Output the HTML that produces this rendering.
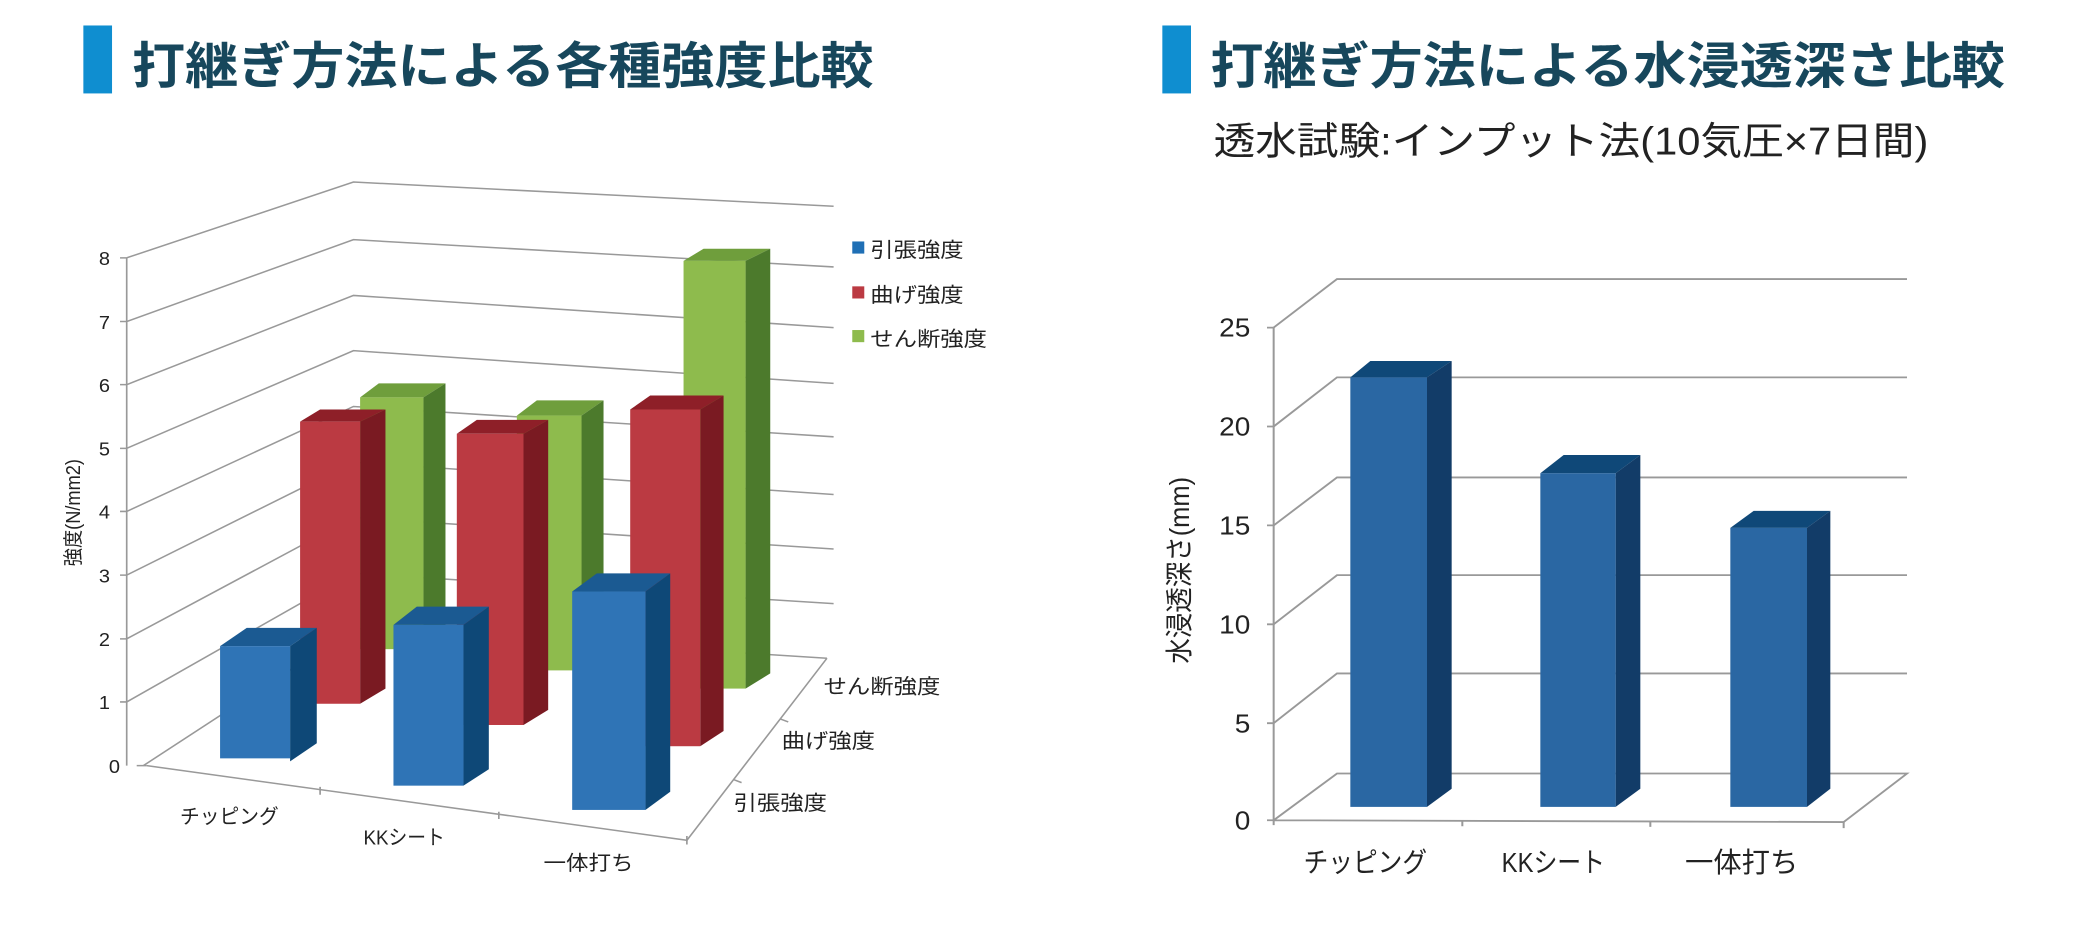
<!DOCTYPE html>
<html><head><meta charset="utf-8"><style>
html,body{margin:0;padding:0;background:#fff;width:2075px;height:944px;overflow:hidden}
svg{position:absolute;top:0}
text{font-family:"Liberation Sans","Noto Sans CJK JP",sans-serif}
</style></head><body>
<svg style="left:0" width="1037" height="944" viewBox="0 0 1555 1556" preserveAspectRatio="none">
<rect x="125" y="42" width="43" height="112" fill="#0f8ed0"/>
<text x="198" y="138" font-size="82" font-weight="bold" fill="#17475c" textLength="1112" lengthAdjust="spacingAndGlyphs">打継ぎ方法による各種強度比較</text>
<g stroke="#999" stroke-width="2.5" fill="none">
<path d="M190 425 L530 300 L1250 340"/>
<path d="M190 530 L530 395 L1250 440"/>
<path d="M190 634 L530 487 L1250 540"/>
<path d="M190 739 L530 578 L1250 632"/>
<path d="M190 843 L530 670 L1250 720"/>
<path d="M190 948 L530 762 L1250 815"/>
<path d="M190 1053 L530 853 L1250 905"/>
<path d="M190 1157 L530 945 L1250 995"/>
<path d="M215 1262 L530 1036 L1240 1085"/>
<path d="M190 425 L190 1262"/>
<path d="M220 1262 L1030 1385 L1240 1085"/>
<path d="M480 1297 L480 1310 M748 1338 L748 1350 M1030 1378 L1030 1392 M1100 1285 L1112 1290 M1170 1185 L1182 1190"/>
<path d="M180 425 L190 425 M180 530 L190 530 M180 634 L190 634 M180 739 L190 739 M180 843 L190 843 M180 948 L190 948 M180 1053 L190 1053 M180 1157 L190 1157 M205 1262 L220 1262"/>
</g>
<g font-size="30" fill="#222" text-anchor="end">
<text x="165" y="437">8</text><text x="165" y="542">7</text><text x="165" y="646">6</text><text x="165" y="751">5</text><text x="165" y="855">4</text><text x="165" y="960">3</text><text x="165" y="1065">2</text><text x="165" y="1169">1</text><text x="180" y="1274">0</text>
</g>
<text transform="translate(120,845) rotate(-90)" font-size="30" fill="#222" text-anchor="middle">強度(N/mm2)</text>
<g>
<polygon points="540,655 568,632 668,632 635,655" fill="#6f9e3c"/><polygon points="635,655 668,632 668,1045 635,1070" fill="#4c7a2c"/><rect x="540" y="655" width="95" height="415" fill="#8ebb4d"/>
<polygon points="775,685 805,660 905,660 872,685" fill="#6f9e3c"/><polygon points="872,685 905,660 905,1080 872,1105" fill="#4c7a2c"/><rect x="775" y="685" width="97" height="420" fill="#8ebb4d"/>
<polygon points="1025,430 1055,410 1155,410 1118,430" fill="#6f9e3c"/><polygon points="1118,430 1155,410 1155,1110 1118,1135" fill="#4c7a2c"/><rect x="1025" y="430" width="93" height="705" fill="#8ebb4d"/>
</g>
<g>
<polygon points="450,695 480,675 578,675 540,695" fill="#8e1f28"/><polygon points="540,695 578,675 578,1135 540,1160" fill="#7a1a22"/><rect x="450" y="695" width="90" height="465" fill="#bb3a42"/>
<polygon points="685,715 715,692 822,692 785,715" fill="#8e1f28"/><polygon points="785,715 822,692 822,1170 785,1195" fill="#7a1a22"/><rect x="685" y="715" width="100" height="480" fill="#bb3a42"/>
<polygon points="945,675 975,652 1085,652 1050,675" fill="#8e1f28"/><polygon points="1050,675 1085,652 1085,1205 1050,1230" fill="#7a1a22"/><rect x="945" y="675" width="105" height="555" fill="#bb3a42"/>
</g>
<g>
<polygon points="330,1065 370,1035 475,1035 435,1065" fill="#1b5a92"/><polygon points="435,1065 475,1035 475,1225 435,1255" fill="#0e4877"/><rect x="330" y="1065" width="105" height="185" fill="#2f74b6"/>
<polygon points="590,1030 625,1000 733,1000 695,1030" fill="#1b5a92"/><polygon points="695,1030 733,1000 733,1268 695,1295" fill="#0e4877"/><rect x="590" y="1030" width="105" height="265" fill="#2f74b6"/>
<polygon points="858,975 895,945 1005,945 968,975" fill="#1b5a92"/><polygon points="968,975 1005,945 1005,1305 968,1335" fill="#0e4877"/><rect x="858" y="975" width="110" height="360" fill="#2f74b6"/>
</g>
<g font-size="34" fill="#222">
<rect x="1278" y="398" width="18" height="20" fill="#1f6fb5"/><text x="1305" y="424" textLength="140" lengthAdjust="spacingAndGlyphs">引張強度</text>
<rect x="1278" y="472" width="18" height="20" fill="#bb3a42"/><text x="1305" y="498" textLength="140" lengthAdjust="spacingAndGlyphs">曲げ強度</text>
<rect x="1278" y="544" width="18" height="20" fill="#8ebb4d"/><text x="1305" y="570" textLength="175" lengthAdjust="spacingAndGlyphs">せん断強度</text>
<text x="1235" y="1143" textLength="175" lengthAdjust="spacingAndGlyphs">せん断強度</text>
<text x="1172" y="1233" textLength="140" lengthAdjust="spacingAndGlyphs">曲げ強度</text>
<text x="1100" y="1335" textLength="140" lengthAdjust="spacingAndGlyphs">引張強度</text>
<text x="270" y="1357" textLength="148" lengthAdjust="spacingAndGlyphs">チッピング</text>
<text x="545" y="1392" textLength="122" lengthAdjust="spacingAndGlyphs">KKシート</text>
<text x="815" y="1434" textLength="135" lengthAdjust="spacingAndGlyphs">一体打ち</text>
</g>
</svg>
<svg style="left:1037px" width="1038" height="944" viewBox="0 0 1557 1556" preserveAspectRatio="none">
<rect x="188" y="42" width="43" height="112" fill="#0f8ed0"/>
<text x="260" y="138" font-size="82" font-weight="bold" fill="#17475c" textLength="1192" lengthAdjust="spacingAndGlyphs">打継ぎ方法による水浸透深さ比較</text>
<text x="265" y="255" font-size="64" fill="#222" textLength="1072" lengthAdjust="spacingAndGlyphs">透水試験:インプット法(10気圧×7日間)</text>
<g stroke="#999" stroke-width="3" fill="none">
<path d="M355 540 L450 460 L1305 460"/>
<path d="M355 703 L450 622 L1305 622"/>
<path d="M355 866 L450 787 L1305 787"/>
<path d="M355 1029 L450 948 L1305 948"/>
<path d="M355 1192 L450 1110 L1305 1110"/>
<path d="M355 1352 L450 1275 L1305 1275 L1210 1355"/>
<path d="M355 540 L355 1360 M355 1352 L1210 1355"/>
<path d="M345 540 L355 540 M345 703 L355 703 M345 866 L355 866 M345 1029 L355 1029 M345 1192 L355 1192 M345 1352 L355 1352 M638 1352 L638 1362 M920 1353 L920 1363 M1210 1355 L1210 1365"/>
</g>
<g font-size="42" fill="#222" text-anchor="end">
<text x="320" y="555">25</text><text x="320" y="718">20</text><text x="320" y="881">15</text><text x="320" y="1044">10</text><text x="320" y="1207">5</text><text x="320" y="1367">0</text>
</g>
<text transform="translate(228,940) rotate(-90)" font-size="42" fill="#222" text-anchor="middle">水浸透深さ(mm)</text>
<g>
<polygon points="470,622 500,595 622,595 585,622" fill="#0f4878"/><polygon points="585,622 622,595 622,1300 585,1330" fill="#123c68"/><rect x="470" y="622" width="115" height="708" fill="#2a67a3"/>
<polygon points="755,780 790,750 905,750 868,780" fill="#0f4878"/><polygon points="868,780 905,750 905,1300 868,1330" fill="#123c68"/><rect x="755" y="780" width="113" height="550" fill="#2a67a3"/>
<polygon points="1040,870 1075,842 1190,842 1155,870" fill="#0f4878"/><polygon points="1155,870 1190,842 1190,1300 1155,1330" fill="#123c68"/><rect x="1040" y="870" width="115" height="460" fill="#2a67a3"/>
</g>
<g font-size="46" fill="#222">
<text x="400" y="1437" textLength="185" lengthAdjust="spacingAndGlyphs">チッピング</text><text x="697" y="1437" textLength="155" lengthAdjust="spacingAndGlyphs">KKシート</text><text x="972" y="1437" textLength="170" lengthAdjust="spacingAndGlyphs">一体打ち</text>
</g>
</svg>
</body></html>
